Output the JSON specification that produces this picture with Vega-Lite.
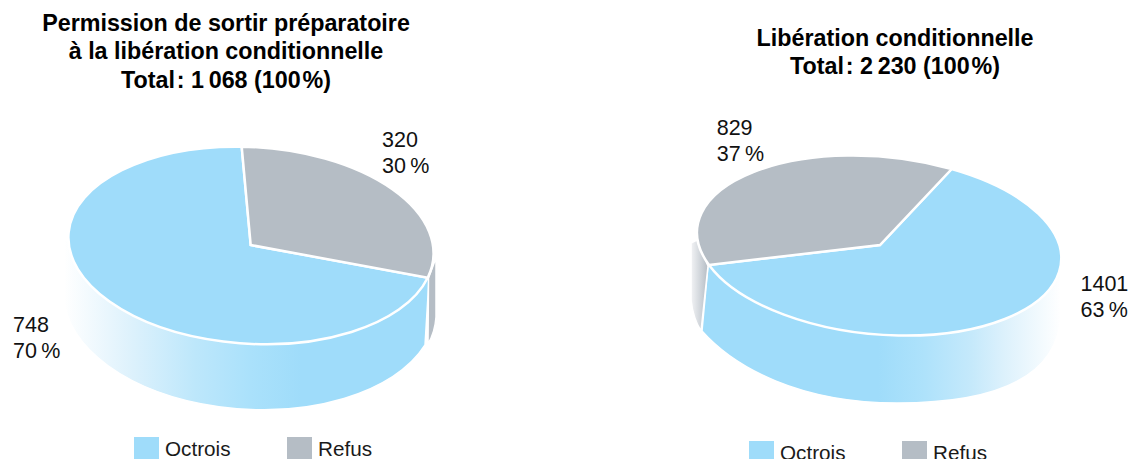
{
"$schema":"https://vega.github.io/schema/vega-lite/v6.json",
"padding":0,"spacing":0,"bounds":"flush","background":"white",
"config":{"view":{"stroke":null},"text":{"font":"Liberation Sans"},
 "title":{"font":"Liberation Sans","fontWeight":"bold","fontSize":23.3,"color":"#000000","lineHeight":28.3},
 "legend":{"padding":0,"labelFont":"Liberation Sans","labelFontSize":20.7,"labelColor":"#1a1a1a","symbolType":"square","symbolSize":625,"symbolStrokeWidth":0,"symbolOpacity":1,"labelOffset":6,"columns":2,"columnPadding":56,"orient":"none","title":null}},
"datasets":{"rows":[
 {"panel":"Permission","category":"Octrois","count":748,"share":70,"label":"748\n70\u202f%"},
 {"panel":"Permission","category":"Refus","count":320,"share":30,"label":"320\n30\u202f%"},
 {"panel":"Liberation","category":"Octrois","count":1401,"share":63,"label":"1401\n63\u202f%"},
 {"panel":"Liberation","category":"Refus","count":829,"share":37,"label":"829\n37\u202f%"}
]},
"hconcat":[
{"width":565,"height":459,
 "title":{"text":["Permission de sortir préparatoire","à la libération conditionnelle","Total\u200a: 1\u2009068 (100\u200a%)"],"anchor":"middle","frame":"group","dx":-56.5,"baseline":"alphabetic","offset":-111},
 "data":{"name":"rows"},"transform":[{"filter":"datum.panel=='Permission'"}],
 "layer":[
 {"transform":[{"filter":"datum.category=='Octrois'"}],
  "mark":{"type":"point","filled":true,"opacity":1,"size":4,"stroke":"white","strokeWidth":1.5,
   "shape":"M146.5 49.5L142.5 115.5A186 107 3.5 0 1 -218.5 65.5L-218.5 10.5L-32.5 10.5Z",
   "fill":{"gradient":"linear","x1":0,"y1":0,"x2":1,"y2":0,"stops":[{"offset":0,"color":"#ffffff"},{"offset":0.19,"color":"#dcf1fc"},{"offset":0.36,"color":"#bde7fb"},{"offset":0.51,"color":"#aae1fb"},{"offset":0.65,"color":"#9fdcfa"},{"offset":1,"color":"#9fdcfa"}]}},
  "encoding":{}},
 {"transform":[{"filter":"datum.category=='Refus'"}],
  "mark":{"type":"point","filled":true,"opacity":1,"size":4,"stroke":"white","strokeWidth":1.5,"fill":"#b5bdc5",
   "shape":"M146 48.5L153.5 28.5L153.5 87.5Q152.5 102.5 145.5 114.5Z"},
  "encoding":{}},
 {"mark":{"type":"point","filled":true,"opacity":1,"size":4,"stroke":"white","strokeWidth":2.5},
  "encoding":{
   "color":{"field":"category","type":"nominal","sort":null,"scale":{"domain":["Octrois","Refus"],"range":["#9fdcfa","#b5bdc5"]},"legend":{"legendX":134,"legendY":437,"symbolType":"square"}},
   "shape":{"field":"share","type":"nominal","legend":null,"scale":{"domain":[70,30],"range":[
    "M-31.8 15.5L145.2 48.2A182.8 98.3 3.5 1 1 -40.8 -82.8Z",
    "M-31.8 15.5L-40.8 -82.8A182.8 98.3 3.5 0 1 145.2 48.2Z"]}}}},
 {"transform":[{"filter":"datum.category=='Octrois'"}],
  "mark":{"type":"text","align":"left","baseline":"alphabetic","fontSize":21.5,"lineHeight":26,"lineBreak":"\n","color":"#111111","dx":-269.5,"dy":102.5},
  "encoding":{"text":{"field":"label"}}},
 {"transform":[{"filter":"datum.category=='Refus'"}],
  "mark":{"type":"text","align":"left","baseline":"alphabetic","fontSize":21.5,"lineHeight":26,"lineBreak":"\n","color":"#111111","dx":99.5,"dy":-82.8},
  "encoding":{"text":{"field":"label"}}}
 ]},
{"width":566,"height":459,
 "title":{"text":["Libération conditionnelle","Total\u200a: 2\u2009230 (100\u200a%)"],"anchor":"middle","frame":"group","dx":47,"baseline":"alphabetic","offset":-97.5},
 "data":{"name":"rows"},"transform":[{"filter":"datum.panel=='Liberation'"}],
 "layer":[
 {"transform":[{"filter":"datum.category=='Octrois'"}],
  "mark":{"type":"point","filled":true,"opacity":1,"size":4,"stroke":"white","strokeWidth":1.5,
   "shape":"M-140 36.5L-146 101.5C-113 138.5 -48 173.5 49 173.5C152 173.5 210 145.5 213 85.5L213 10.5L32 10.5Z",
   "fill":{"gradient":"linear","x1":0,"y1":0,"x2":1,"y2":0,"stops":[{"offset":0,"color":"#9fdcfa"},{"offset":0.49,"color":"#9fdcfa"},{"offset":0.62,"color":"#aee2fb"},{"offset":0.75,"color":"#c5e9fb"},{"offset":0.84,"color":"#dcf1fc"},{"offset":1,"color":"#ffffff"}]}},
  "encoding":{}},
 {"transform":[{"filter":"datum.category=='Refus'"}],
  "mark":{"type":"point","filled":true,"opacity":1,"size":4,"stroke":"white","strokeWidth":1.5,
   "shape":"M-140 36.5L-151 10.5L-157 13.5L-157 70.5Q-155 88.5 -147 101.5Z",
   "fill":{"gradient":"linear","x1":0,"y1":0,"x2":1,"y2":0,"stops":[{"offset":0,"color":"#f2f3f5"},{"offset":1,"color":"#b5bdc5"}]}},
  "encoding":{}},
 {"mark":{"type":"point","filled":true,"opacity":1,"size":4,"stroke":"white","strokeWidth":2.5},
  "encoding":{
   "color":{"field":"category","type":"nominal","sort":null,"scale":{"domain":["Octrois","Refus"],"range":["#9fdcfa","#b5bdc5"]},"legend":{"legendX":184,"legendY":441,"symbolType":"square"}},
   "shape":{"field":"share","type":"nominal","legend":null,"scale":{"domain":[63,37],"range":[
    "M32 15.5L-139 35.5A182.7 88.8 5.4 1 0 103.7 -60.5Z",
    "M32 15.5L103.7 -60.5A182.7 88.8 5.4 0 0 -139 35.5Z"]}}}},
 {"transform":[{"filter":"datum.category=='Octrois'"}],
  "mark":{"type":"text","align":"left","baseline":"alphabetic","fontSize":21.5,"lineHeight":26,"lineBreak":"\n","color":"#111111","dx":232.5,"dy":61.5},
  "encoding":{"text":{"field":"label"}}},
 {"transform":[{"filter":"datum.category=='Refus'"}],
  "mark":{"type":"text","align":"left","baseline":"alphabetic","fontSize":21.5,"lineHeight":26,"lineBreak":"\n","color":"#111111","dx":-131.3,"dy":-94.5},
  "encoding":{"text":{"field":"label"}}}
 ]}
],
"resolve":{"scale":{"color":"independent","shape":"independent"}}
}
